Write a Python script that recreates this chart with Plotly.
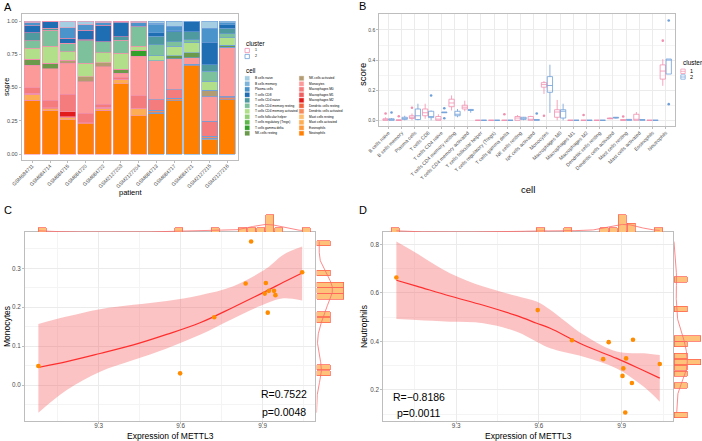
import numpy as np
import plotly.graph_objects as go

W, H = 702, 441
FONT = "Liberation Sans, Arial, sans-serif"
TICK_COL = "#4D4D4D"
BORDER = "#BDBDBD"
GRID = "#EBEBEB"
GRID_MINOR = "#F4F4F4"


def fx(p):
    return p / W


def fy(p):
    return 1 - p / H


# ---------------- Panel A data ----------------
patients = ["GSM684711", "GSM684714", "GSM684715", "GSM684720", "GSM684722", "GSM2127203",
            "GSM2127204", "GSM684713", "GSM684717", "GSM684721", "GSM2127215", "GSM2127216"]
patient_cluster = ["1", "1", "1", "1", "1", "1", "1", "2", "2", "2", "2", "2"]
cluster_colors = {"1": "#F08FAE", "2": "#6F9FD8"}

cells = ["B cells naive", "B cells memory", "Plasma cells", "T cells CD8", "T cells CD4 naive",
         "T cells CD4 memory resting", "T cells CD4 memory activated", "T cells follicular helper",
         "T cells regulatory (Tregs)", "T cells gamma delta", "NK cells resting", "NK cells activated",
         "Monocytes", "Macrophages M0", "Macrophages M1", "Macrophages M2", "Dendritic cells resting",
         "Dendritic cells activated", "Mast cells resting", "Mast cells activated", "Eosinophils",
         "Neutrophils"]
cell_colors = ["#A6CEE3", "#7DB4DA", "#4A93CB", "#1F6DB3", "#4E9A9F", "#7DC09C", "#B2DF8A",
               "#93CF77", "#5DB74B", "#33A02C", "#6A9A4A", "#B39C72", "#FB9A99", "#F47C7C",
               "#EE5F5F", "#E31A1C", "#F0653F", "#F5895A", "#FDBF6F", "#FDAE55", "#FD9A3A",
               "#FF7F00"]

b_naive = [.012, .003, .050, .026, .011, 0, .013, .018, .038, .006, .055, .012]
b_memory = [0, .003, 0, 0, 0, 0, 0, .008, 0, 0, 0, 0]
plasma = [.025, 0, .080, .043, .020, .013, .030, .063, .033, 0, .105, .015]
t_cd8 = [.050, .050, .038, .070, .125, .105, 0, .025, .010, .075, .168, .028]
t_cd4_naive = [.060, .013, 0, .010, 0, .025, 0, .063, .075, .058, .050, .040]
t_cd4_mem_rest = [.058, .120, .063, .170, .083, .100, .145, .085, .033, .025, .075, .030]
t_cd4_mem_act = [.083, .130, .063, .100, .075, .120, .030, .038, .073, .073, .068, .058]
t_fh = [0] * 12
t_regs = [0] * 12
t_gd = [0, 0, 0, 0, 0, 0, .045, 0, 0, 0, 0, 0]
nk_rest = [.043, .038, 0, 0, 0, .030, 0, 0, .023, .038, 0, .013]
nk_act = [0, 0, .025, .038, .030, 0, 0, 0, 0, 0, .045, 0]
monocytes = [.170, .238, .230, .238, .283, .030, .300, .290, .230, .049, .186, .369]
mac_m0 = [.043, .058, .133, .070, .023, .013, .093, .080, .065, 0, .113, .013]
mac_m1 = [0] * 12
mac_m2 = [0, 0, .038, 0, 0, 0, 0, 0, 0, 0, 0, 0]
dc_rest = [0] * 12
dc_act = [.005, .005, .007, .006, .005, 0, 0, .018, .020, .013, .018, .015]
mast_rest = [0, 0, 0, 0, 0, 0, 0, .005, 0, 0, 0, 0]
mast_act = [.045, .015, .015, 0, .015, .035, .055, 0, 0, 0, .010, 0]
eosinophils = [0] * 12
neutrophils = [.406, .327, .258, .229, .330, .529, .289, .307, .400, .663, .107, .407]

a_values = [b_naive, b_memory, plasma, t_cd8, t_cd4_naive, t_cd4_mem_rest, t_cd4_mem_act, t_fh,
            t_regs, t_gd, nk_rest, nk_act, monocytes, mac_m0, mac_m1, mac_m2, dc_rest, dc_act,
            mast_rest, mast_act, eosinophils, neutrophils]

# ---------------- Panel B data (box statistics per cell, per cluster) ----------------
c1_q1 = [0, 0, .012, .030, 0, .090, .075, 0, 0, 0, 0, 0, .220, .020, 0, 0, 0, .010, 0, 0, 0, .2735]
c1_med = [.003, 0, .020, .050, .008, .115, .087, 0, 0, 0, .015, .004, .237, .055, 0, 0, 0, .012, 0, .003, 0, .327]
c1_q3 = [.010, .003, .030, .075, .025, .140, .100, 0, 0, 0, .025, .025, .250, .070, 0, 0, 0, .015, .005, .040, 0, .368]
c1_lo = [0, 0, 0, .010, 0, .065, .060, 0, 0, 0, 0, 0, .175, 0, 0, 0, 0, .008, 0, 0, 0, .229]
c1_hi = [.020, .005, .045, .110, .040, .165, .130, 0, 0, 0, .035, .030, .260, .135, 0, 0, 0, .018, .008, .055, 0, .406]
c1_out_cell = ["B cells naive", "B cells memory", "Plasma cells", "T cells gamma delta", "Monocytes",
               "Macrophages M2", "Mast cells resting", "Neutrophils"]
c1_out_val = [.045, .027, .083, .040, .030, .035, .025, .529]

c2_q1 = [0, .006, .005, .018, .050, .030, .065, 0, 0, 0, .006, 0, .186, .015, 0, 0, 0, .015, 0, 0, 0, .307]
c2_med = [.004, .012, .030, .025, .052, .040, .068, 0, 0, 0, .013, .002, .231, .060, 0, 0, 0, .017, .002, .002, 0, .400]
c2_q3 = [.010, .020, .075, .060, .055, .060, .072, 0, 0, 0, .020, .005, .290, .070, 0, 0, 0, .020, .006, .005, 0, .407]
c2_lo = [0, 0, 0, 0, .050, .020, .050, 0, 0, 0, 0, 0, .049, 0, 0, 0, 0, .012, 0, 0, 0, .307]
c2_hi = [.015, .030, .110, .065, .055, .075, .075, 0, 0, 0, .022, .005, .369, .110, 0, 0, 0, .022, .008, .006, 0, .407]
c2_out_cell = ["B cells naive", "T cells CD8", "T cells CD4 naive", "T cells CD4 naive",
               "NK cells activated", "Neutrophils", "Neutrophils"]
c2_out_val = [.052, .165, .080, .013, .045, .107, .663]

# ---------------- Panel C / D data ----------------
mettl3_c = [9.079, 9.598, 9.723, 9.838, 9.858, 9.908, 9.912, 9.919, 9.923, 9.942, 9.947, 10.045]
mono_c = [0.049, 0.030, 0.174, 0.261, 0.369, 0.235, 0.262, 0.186, 0.242, 0.242, 0.231, 0.290]
fit_x_c = [9.079, 9.183, 9.305, 9.427, 9.549, 9.671, 9.793, 9.915, 9.976, 10.045]
fit_c = [0.045, 0.060, 0.081, 0.103, 0.130, 0.160, 0.200, 0.242, 0.264, 0.288]
lo_c = [-0.071, -0.013, 0.034, 0.064, 0.094, 0.129, 0.171, 0.210, 0.223, 0.217]
hi_c = [0.157, 0.176, 0.195, 0.206, 0.216, 0.231, 0.254, 0.300, 0.335, 0.356]

mettl3_d = [9.084, 9.596, 9.720, 9.833, 9.853, 9.903, 9.906, 9.913, 9.916, 9.937, 9.941, 10.038]
neut_d = [0.663, 0.529, 0.405, 0.327, 0.397, 0.258, 0.289, 0.107, 0.330, 0.229, 0.407, 0.307]
fit_x_d = [9.084, 9.157, 9.278, 9.399, 9.520, 9.592, 9.641, 9.762, 9.882, 9.979, 10.038]
fit_d = [0.652, 0.628, 0.587, 0.549, 0.506, 0.475, 0.454, 0.385, 0.330, 0.280, 0.249]
lo_d = [0.492, 0.488, 0.481, 0.475, 0.440, 0.399, 0.372, 0.337, 0.289, 0.214, 0.152]
hi_d = [0.811, 0.763, 0.681, 0.626, 0.587, 0.564, 0.530, 0.427, 0.358, 0.351, 0.344]

stats_c = ["R=0.7522", "p=0.0048"]
stats_d = ["R=\u22120.8186", "p=0.0011"]

# ---------------- helpers ----------------
def kde(data, lo, hi, n=256):
    d = np.asarray(data, dtype=float)
    sd = d.std(ddof=1)
    q75, q25 = np.percentile(d, [75, 25])
    bw = 0.9 * min(sd, (q75 - q25) / 1.34) * len(d) ** -0.2
    g = np.linspace(lo, hi, n)
    dens = np.exp(-0.5 * ((g[:, None] - d[None, :]) / bw) ** 2).sum(1) / (len(d) * bw * np.sqrt(2 * np.pi))
    return g, dens


def bins30(lo, hi):
    w = (hi - lo) / 29
    start = w / 2 + np.floor((lo - w / 2) / w) * w
    return dict(start=start, end=hi + w, size=w)


HIST_FILL = "#FFC27A"
HIST_LINE = "#FF5A4A"
DENS_COL = "#FF6A6A"

fig = go.Figure()

# ---------------- Panel A ----------------
for vals, name, col in reversed(list(zip(a_values, cells, cell_colors))):
    fig.add_trace(go.Bar(
        x=patients, y=vals, name=name, xaxis="x", yaxis="y", showlegend=False,
        marker=dict(color=col, line=dict(color=[cluster_colors[c] for c in patient_cluster], width=0.6)),
    ))

# ---------------- Panel B ----------------
for q1, med, q3, lo, hi, ocell, oval, cl, off in [
    (c1_q1, c1_med, c1_q3, c1_lo, c1_hi, c1_out_cell, c1_out_val, "1", -0.225),
    (c2_q1, c2_med, c2_q3, c2_lo, c2_hi, c2_out_cell, c2_out_val, "2", 0.225),
]:
    xs = [i + off for i in range(len(cells))]
    fig.add_trace(go.Box(
        x=xs, q1=q1, median=med, q3=q3, lowerfence=lo, upperfence=hi,
        width=0.4, whiskerwidth=0, boxpoints=False, xaxis="x2", yaxis="y2", showlegend=False,
        line=dict(color=cluster_colors[cl], width=0.8), fillcolor="rgba(255,255,255,0)",
    ))
    fig.add_trace(go.Scatter(
        x=[cells.index(c) + off for c in ocell], y=oval, mode="markers", xaxis="x2", yaxis="y2",
        showlegend=False, marker=dict(color=cluster_colors[cl], size=2.6),
    ))

# ---------------- Panels C / D ----------------
def scatter_panel(xv, yv, fx_, fit, lo, hi, ax_main, ax_top, ax_right):
    xa, ya = ax_main
    fig.add_trace(go.Scatter(x=fx_, y=hi, mode="lines", line=dict(width=0, shape="spline"),
                             xaxis=xa, yaxis=ya, showlegend=False, hoverinfo="skip"))
    fig.add_trace(go.Scatter(x=fx_, y=lo, mode="lines", line=dict(width=0, shape="spline"),
                             fill="tonexty", fillcolor="rgba(245,90,90,0.36)",
                             xaxis=xa, yaxis=ya, showlegend=False, hoverinfo="skip"))
    fig.add_trace(go.Scatter(x=fx_, y=fit, mode="lines", line=dict(color="#FF2E2E", width=1.2, shape="spline"),
                             xaxis=xa, yaxis=ya, showlegend=False))
    fig.add_trace(go.Scatter(x=xv, y=yv, mode="markers", marker=dict(color="#FF8C00", size=4.6),
                             xaxis=xa, yaxis=ya, showlegend=False))
    # top marginal
    xlo, xhi = min(min(xv), min(fx_)), max(max(xv), max(fx_))
    fig.add_trace(go.Histogram(x=xv, xbins=bins30(xlo, xhi), histnorm="probability density",
                               marker=dict(color=HIST_FILL, line=dict(color=HIST_LINE, width=0.7)),
                               xaxis=ax_top[0], yaxis=ax_top[1], showlegend=False))
    g, d = kde(xv, xlo, xhi)
    fig.add_trace(go.Scatter(x=g, y=d, mode="lines", line=dict(color=DENS_COL, width=0.8),
                             xaxis=ax_top[0], yaxis=ax_top[1], showlegend=False))
    # right marginal
    ylo, yhi = min(min(yv), min(lo)), max(max(yv), max(hi))
    fig.add_trace(go.Histogram(y=yv, ybins=bins30(ylo, yhi), histnorm="probability density",
                               marker=dict(color=HIST_FILL, line=dict(color=HIST_LINE, width=0.7)),
                               xaxis=ax_right[0], yaxis=ax_right[1], showlegend=False))
    g, d = kde(yv, ylo, yhi)
    fig.add_trace(go.Scatter(x=d, y=g, mode="lines", line=dict(color=DENS_COL, width=0.8),
                             xaxis=ax_right[0], yaxis=ax_right[1], showlegend=False))


scatter_panel(mettl3_c, mono_c, fit_x_c, fit_c, lo_c, hi_c, ("x3", "y3"), ("x4", "y4"), ("x5", "y5"))
scatter_panel(mettl3_d, neut_d, fit_x_d, fit_d, lo_d, hi_d, ("x6", "y6"), ("x7", "y7"), ("x8", "y8"))

# ---------------- Layout ----------------
def frame(**kw):
    base = dict(showline=True, mirror=True, linecolor=BORDER, linewidth=1, ticks="outside", ticklen=2,
                tickwidth=0.6, tickcolor=BORDER, zeroline=False, automargin=False,
                tickfont=dict(family=FONT, size=6.3, color=TICK_COL))
    base.update(kw)
    return base


hidden = dict(visible=False, showgrid=False, zeroline=False, automargin=False)

xr_c = [9.030, 10.092]
yr_c = [-0.0925, 0.3925]
xr_d = [9.0366, 10.087]
yr_d = [0.0723, 0.8494]

layout = dict(
    width=W, height=H, margin=dict(l=0, r=0, t=0, b=0), template="none",
    paper_bgcolor="white", plot_bgcolor="white", barmode="stack", bargap=0.1, boxmode="overlay",
    font=dict(family=FONT, color="black"),
    xaxis=frame(domain=[fx(21.7), fx(238)], anchor="y", type="category", range=[-0.6, 11.6],
                tickangle=-45, showgrid=False, ticklabelstandoff=-2,
                tickfont=dict(family=FONT, size=5.1, color=TICK_COL)),
    yaxis=frame(domain=[fy(160), fy(14)], anchor="x", range=[-0.045, 1.053],
                tickvals=[0, 0.25, 0.5, 0.75, 1.0], tickformat=".2f", showgrid=False,
                tickfont=dict(family=FONT, size=5.5, color=TICK_COL)),
    xaxis2=frame(domain=[fx(379.3), fx(675)], anchor="y2", range=[-0.7, 21.7],
                 tickvals=list(range(len(cells))), ticktext=cells, tickangle=-45,
                 showgrid=True, gridcolor=GRID, gridwidth=0.8, ticklabelstandoff=-1,
                 tickfont=dict(family=FONT, size=5.0, color=TICK_COL)),
    yaxis2=frame(domain=[fy(126), fy(14.3)], anchor="x2", range=[-0.038, 0.704], tick0=0, dtick=0.2,
                 tickformat=".1f", showgrid=True, gridcolor=GRID, gridwidth=0.8,
                 minor=dict(dtick=0.1, tick0=0, showgrid=True, gridcolor=GRID_MINOR, gridwidth=0.6),
                 tickfont=dict(family=FONT, size=5.0, color=TICK_COL)),
    xaxis3=frame(domain=[fx(25), fx(315)], anchor="y3", range=xr_c, tick0=9.3, dtick=0.3, tickformat=".1f",
                 showgrid=True, gridcolor=GRID, gridwidth=0.8, ticklabelstandoff=-4,
                 minor=dict(dtick=0.15, tick0=9.15, showgrid=True, gridcolor=GRID_MINOR, gridwidth=0.6)),
    yaxis3=frame(domain=[fy(421), fy(232.3)], anchor="x3", range=yr_c, tick0=0, dtick=0.1, tickformat=".1f",
                 showgrid=True, gridcolor=GRID, gridwidth=0.8,
                 minor=dict(dtick=0.05, tick0=0, showgrid=True, gridcolor=GRID_MINOR, gridwidth=0.6)),
    xaxis4=dict(hidden, domain=[fx(25), fx(315)], anchor="y4", range=xr_c),
    yaxis4=dict(hidden, domain=[fy(232.0), fy(214.0)], anchor="x4", rangemode="tozero"),
    xaxis5=dict(hidden, domain=[fx(316.5), fx(345)], anchor="y5", rangemode="tozero"),
    yaxis5=dict(hidden, domain=[fy(421), fy(232.3)], anchor="x5", range=yr_c),
    xaxis6=frame(domain=[fx(383.3), fx(673.3)], anchor="y6", range=xr_d, tick0=9.3, dtick=0.3, tickformat=".1f",
                 showgrid=True, gridcolor=GRID, gridwidth=0.8, ticklabelstandoff=-4,
                 minor=dict(dtick=0.15, tick0=9.15, showgrid=True, gridcolor=GRID_MINOR, gridwidth=0.6)),
    yaxis6=frame(domain=[fy(421), fy(232.3)], anchor="x6", range=yr_d, tick0=0.2, dtick=0.2, tickformat=".1f",
                 showgrid=True, gridcolor=GRID, gridwidth=0.8,
                 minor=dict(dtick=0.1, tick0=0.1, showgrid=True, gridcolor=GRID_MINOR, gridwidth=0.6)),
    xaxis7=dict(hidden, domain=[fx(383.3), fx(673.3)], anchor="y7", range=xr_d),
    yaxis7=dict(hidden, domain=[fy(232.0), fy(214.0)], anchor="x7", rangemode="tozero"),
    xaxis8=dict(hidden, domain=[fx(674), fx(702)], anchor="y8", rangemode="tozero"),
    yaxis8=dict(hidden, domain=[fy(421), fy(232.3)], anchor="x8", range=yr_d),
)
fig.update_layout(**layout)

ann = []
shapes = []


def text(x, y, s, size, color="black", xanchor="center", yanchor="middle", angle=0):
    ann.append(dict(x=fx(x), y=fy(y), xref="paper", yref="paper", text=s, showarrow=False,
                    xanchor=xanchor, yanchor=yanchor, textangle=angle,
                    font=dict(family=FONT, size=size, color=color)))


def rect(x0, y0, x1, y1, fill, line, lw=0.6):
    shapes.append(dict(type="rect", xref="paper", yref="paper", x0=fx(x0), x1=fx(x1), y0=fy(y1), y1=fy(y0),
                       fillcolor=fill, line=dict(color=line, width=lw)))


# panel labels
for lab, x, y in [("A", 2, 7), ("B", 357, 6), ("C", 2, 210), ("D", 357, 210)]:
    text(x, y, lab, 11, xanchor="left")

# axis titles
text(6, 87, "score", 7.5, angle=-90)
text(130, 192, "patient", 7.5)
text(363, 75, "score", 9.5, angle=-90)
text(528, 190, "cell", 9.5)
text(7, 327, "Monocytes", 8.5, angle=-90)
text(170, 436, "Expression of METTL3", 8.5)
text(364, 327, "Neutrophils", 8.5, angle=-90)
text(528, 436, "Expression of METTL3", 8.5)

# stats
text(283.5, 394, stats_c[0], 10.5)
text(283.5, 412, stats_c[1], 10.5)
text(419, 397, stats_d[0], 10.5)
text(419, 413, stats_d[1], 10.5)

# legend A : cluster
text(244, 43, "cluster", 6.3, xanchor="left")
for i, cl in enumerate(["1", "2"]):
    yc = 50.5 + i * 6
    rect(245, yc - 2.1, 249.4, yc + 2.1, "white", cluster_colors[cl], 0.8)
    text(252.5, yc, cl, 3.6, xanchor="left")
# legend A : cell
text(244, 70, "cell", 6.3, xanchor="left")
for i, (name, col) in enumerate(zip(cells, cell_colors)):
    colx = 245 if i < 11 else 299.3
    yc = 78.3 + (i % 11) * 5.5
    rect(colx, yc - 2.1, colx + 4.4, yc + 2.1, col, col, 0.3)
    text(colx + 7.5, yc, name, 3.2, xanchor="left")

# legend B : cluster
text(680.5, 63, "cluster", 6.5, xanchor="left")
for i, cl in enumerate(["1", "2"]):
    yc = 71.3 + i * 5.7
    rect(680.8, yc - 2.2, 685.2, yc + 2.2, "white", cluster_colors[cl], 0.7)
    shapes.append(dict(type="line", xref="paper", yref="paper", x0=fx(680.8), x1=fx(685.2),
                       y0=fy(yc), y1=fy(yc), line=dict(color=cluster_colors[cl], width=0.7)))
    text(688, yc, cl, 5.5, xanchor="left")

fig.update_layout(annotations=ann, shapes=shapes)
fig.write_html("out.html")
